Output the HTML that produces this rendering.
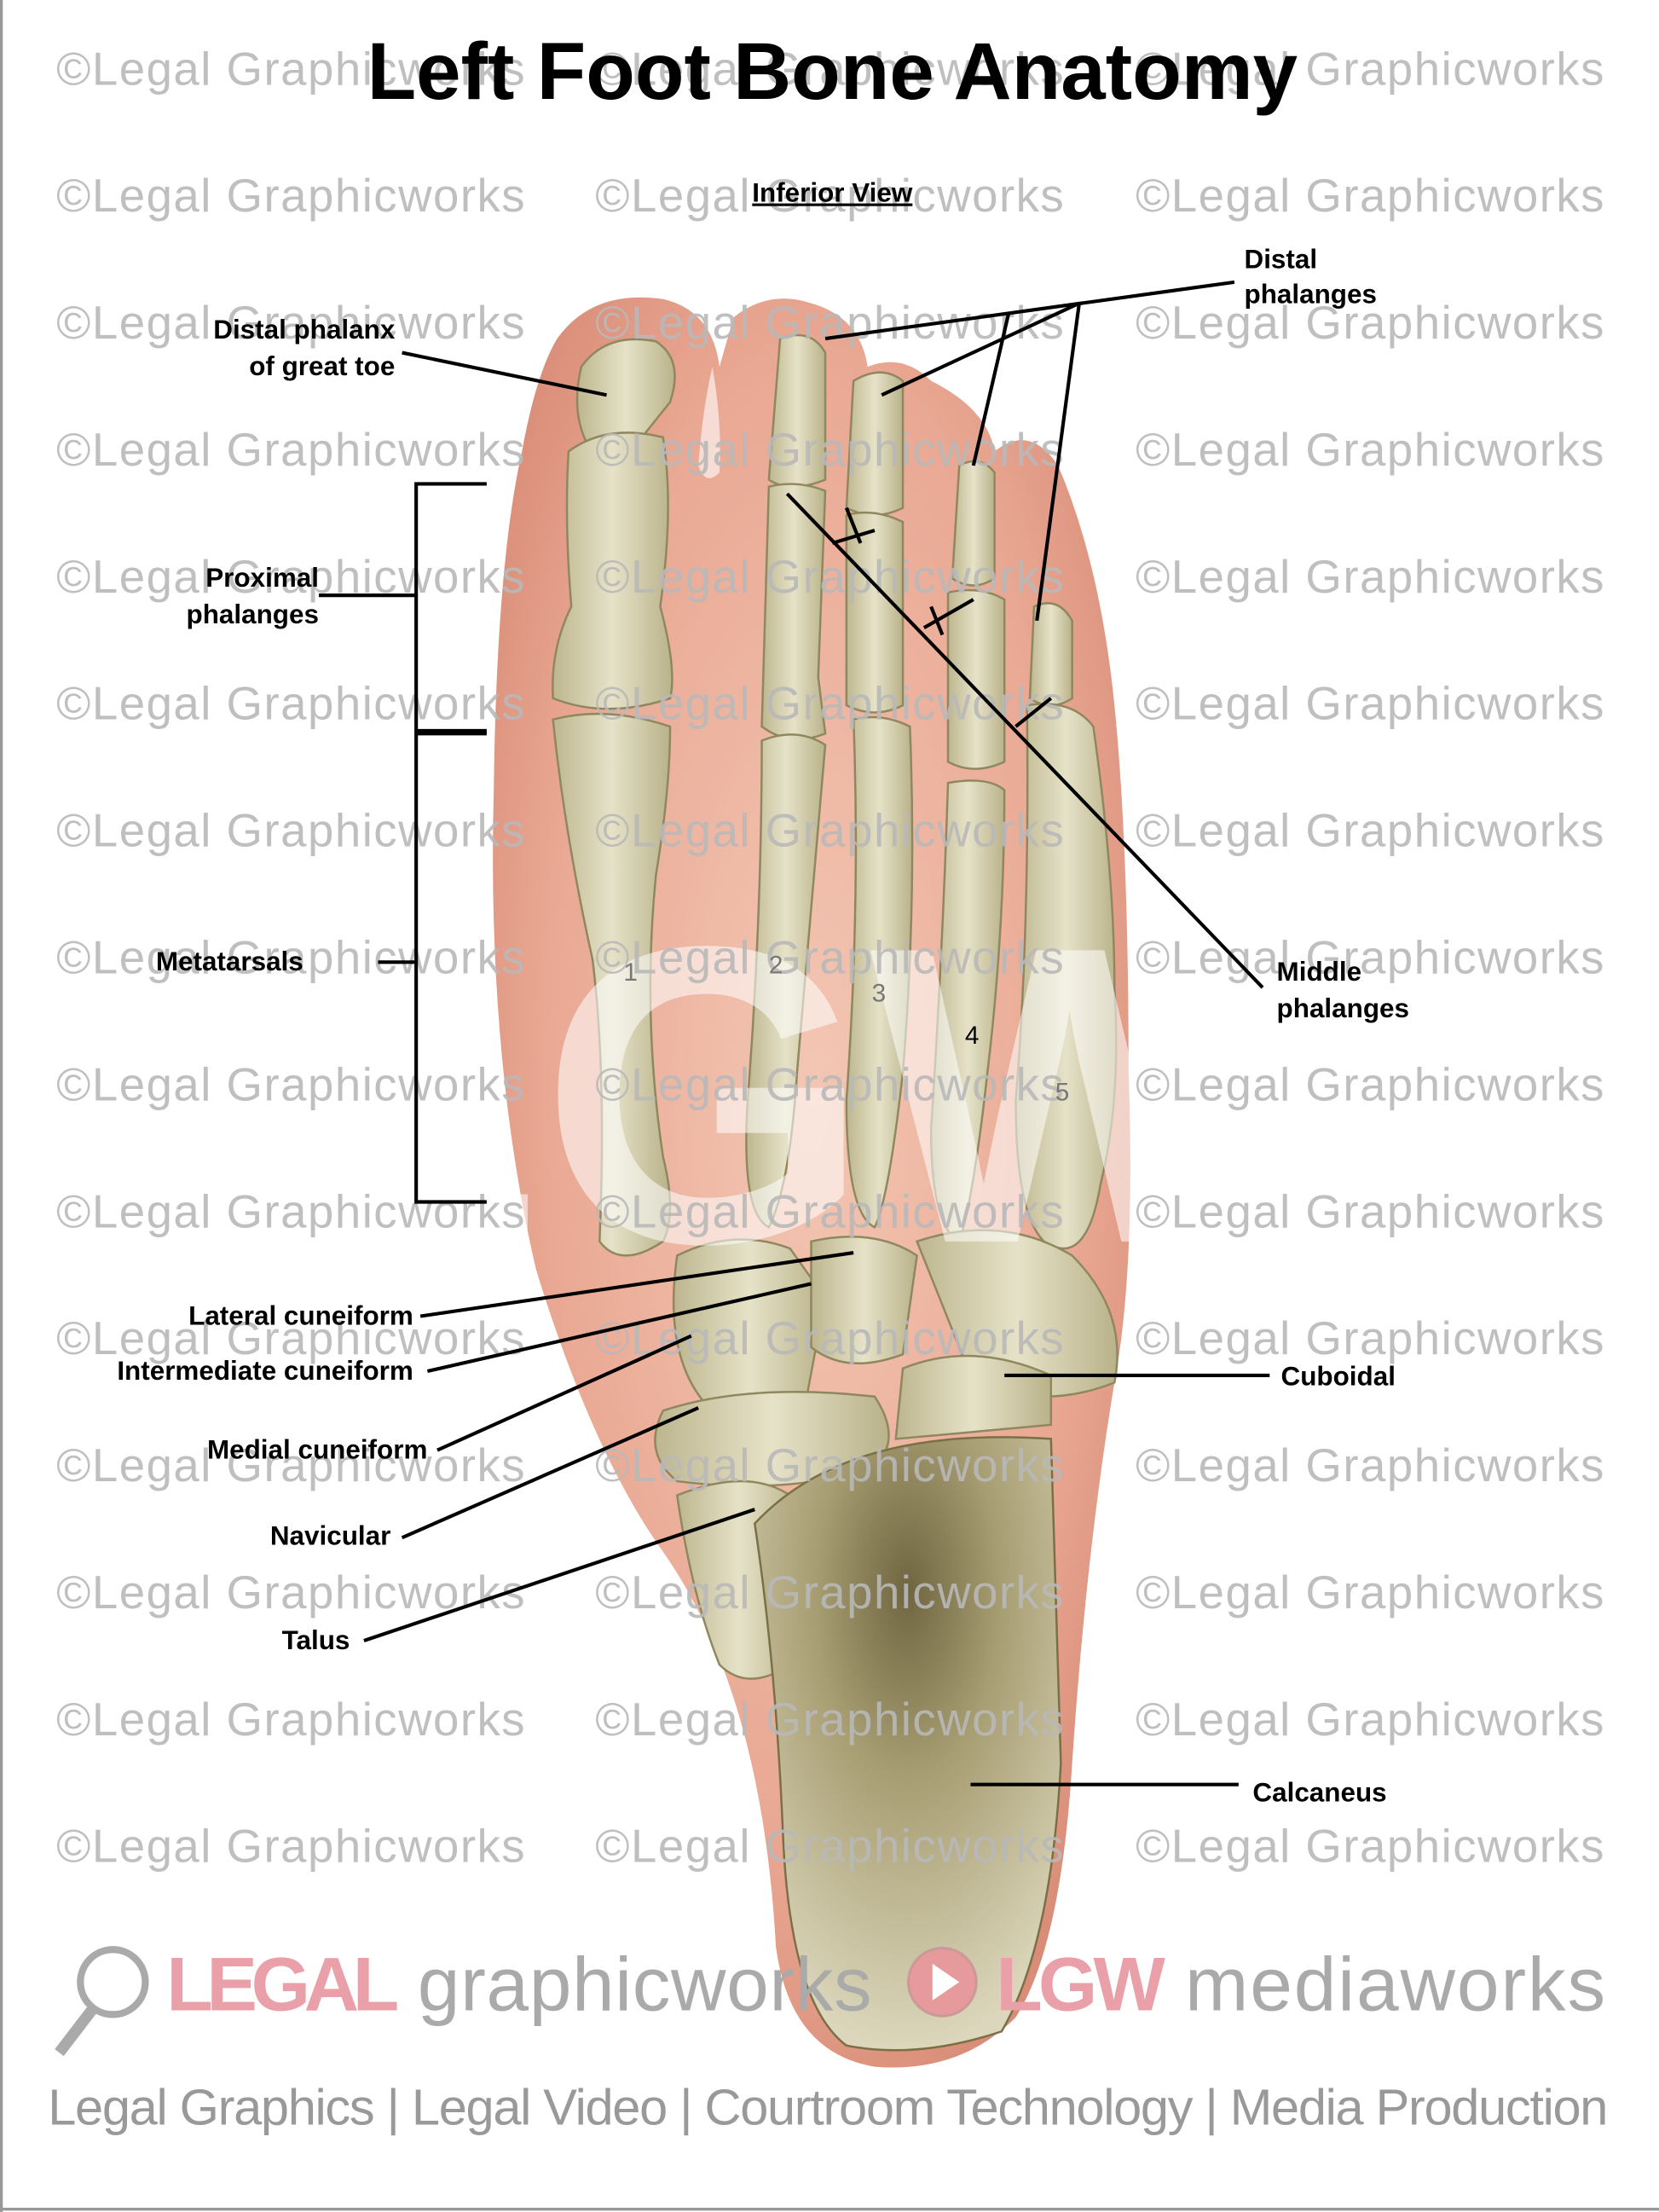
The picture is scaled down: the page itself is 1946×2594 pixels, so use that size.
<!DOCTYPE html>
<html><head><meta charset="utf-8"><style>
html,body{margin:0;padding:0;background:#fff}
svg{display:block}
</style></head><body>
<svg width="1946" height="2594" viewBox="0 0 1176 1568" preserveAspectRatio="none" xmlns="http://www.w3.org/2000/svg" font-family="Liberation Sans, sans-serif">
<rect x="0" y="0" width="1176" height="1568" fill="#fff"/>
<line x1="1" y1="0" x2="1" y2="1568" stroke="#999" stroke-width="2"/>
<line x1="0" y1="1566" x2="1176" y2="1566" stroke="#999" stroke-width="2"/>
<defs>
<radialGradient id="skin" cx="50%" cy="45%" r="60%">
<stop offset="0" stop-color="#f3c7b4"/><stop offset="0.7" stop-color="#e9a893"/><stop offset="1" stop-color="#d98d78"/>
</radialGradient>
<linearGradient id="bone" x1="0" y1="0" x2="1" y2="0">
<stop offset="0" stop-color="#bdb68f"/><stop offset="0.5" stop-color="#e6e2c8"/><stop offset="1" stop-color="#b9b28a"/>
</linearGradient>
<radialGradient id="calc" cx="50%" cy="25%" r="75%">
<stop offset="0" stop-color="#6f6540"/><stop offset="0.4" stop-color="#a79d72"/><stop offset="1" stop-color="#dcd7bc"/>
</radialGradient>
</defs>
<path d="M395 240 Q420 205 470 212 Q505 220 510 260 L520 225 Q545 205 575 215 Q610 225 615 260 Q640 250 660 270 Q700 290 705 320 Q730 300 750 330 Q780 400 790 500 Q800 600 800 760 Q805 900 790 980 Q770 1100 760 1250 Q752 1380 720 1430 Q680 1470 620 1465 Q560 1455 550 1380 Q540 1200 470 1100 Q420 1030 380 900 Q345 750 350 560 Q352 400 370 320 Q380 265 395 240 Z" fill="url(#skin)"/>
<path d="M505 260 Q512 300 510 335 Q500 345 495 330 Q498 290 505 260Z" fill="#fff" fill-opacity="0.6"/>
<g fill="url(#bone)" stroke="#8f875e" stroke-width="1.5">
<path d="M412 260 Q430 235 465 242 Q485 255 475 285 L455 310 Q440 320 415 312 Q405 290 412 260Z"/>
<path d="M403 320 Q430 300 470 310 Q478 360 468 430 Q480 475 475 495 Q430 510 392 495 Q390 460 405 430 Q400 370 403 320Z"/>
<path d="M392 510 Q430 500 475 515 Q475 560 465 620 Q455 720 470 820 Q480 860 470 880 Q440 900 425 880 Q430 760 420 680 Q400 590 392 510Z"/>
<path d="M553 240 Q575 232 585 250 L585 340 Q560 350 545 340 Z"/>
<path d="M545 345 Q565 340 585 348 L580 480 L585 520 Q560 530 540 515 Z"/>
<path d="M540 525 Q565 515 585 528 Q575 640 565 760 Q560 840 545 870 Q525 860 530 780 Q540 650 540 525Z"/>
<path d="M605 270 Q625 258 640 270 L640 360 Q620 370 600 360 Z"/>
<path d="M600 365 Q620 360 640 370 L640 500 Q620 510 600 500 Z"/>
<path d="M605 510 Q625 505 645 515 Q650 640 640 760 Q630 850 620 870 Q600 860 600 780 Q610 640 605 510Z"/>
<path d="M680 330 Q695 322 705 335 L705 410 Q690 420 675 410 Z"/>
<path d="M672 420 Q695 415 712 425 L712 540 Q690 550 672 540 Z"/>
<path d="M672 555 Q700 550 712 560 Q712 660 700 760 Q690 850 680 880 Q660 870 660 800 Q668 680 672 555Z"/>
<path d="M733 430 Q750 422 760 440 L760 495 Q745 505 730 495 Z"/>
<path d="M728 500 Q760 495 775 515 Q790 620 790 700 Q795 780 780 840 Q770 900 740 880 Q720 860 720 780 Q730 660 728 500Z"/>
<path d="M480 890 Q520 870 560 885 L585 920 L570 1000 Q540 1010 500 995 Q470 960 480 890Z"/>
<path d="M575 880 Q620 870 650 890 L640 960 Q600 975 575 955 Z"/>
<path d="M650 880 Q710 860 760 890 Q800 930 790 980 Q740 1000 690 980 Z"/>
<path d="M640 970 Q690 950 745 975 L745 1010 L635 1020 Z"/>
<path d="M470 1000 Q530 980 620 990 Q640 1020 620 1040 Q560 1060 480 1050 Q455 1030 470 1000Z"/>
<path d="M480 1060 Q530 1040 560 1060 Q575 1120 560 1180 Q530 1200 510 1180 Q490 1130 480 1060Z"/>
</g>
<path d="M535 1080 Q600 1010 745 1020 L752 1250 Q745 1380 710 1440 Q650 1460 600 1450 Q560 1420 555 1300 Q550 1180 535 1080Z" fill="url(#calc)" stroke="#7b6f45" stroke-width="1.5"/>
<g fill="#fff" fill-opacity="0.55" font-size="300" font-weight="bold">
<text x="200" y="880">LGW</text>
</g>
<g fill="#b8b8b8" font-size="33" fill-opacity="0.9">
<g id="row"><text x="40" y="60" textLength="332">©Legal Graphicworks</text><text x="422" y="60" textLength="332">©Legal Graphicworks</text><text x="805" y="60" textLength="332">©Legal Graphicworks</text></g>
<use href="#row" y="90"/><use href="#row" y="180"/><use href="#row" y="270"/><use href="#row" y="360"/>
<use href="#row" y="450"/><use href="#row" y="540"/><use href="#row" y="630"/><use href="#row" y="720"/>
<use href="#row" y="810"/><use href="#row" y="900"/><use href="#row" y="990"/><use href="#row" y="1080"/>
<use href="#row" y="1170"/><use href="#row" y="1260"/>
</g>
<text x="590" y="70" text-anchor="middle" font-size="57" font-weight="bold" fill="#000">Left Foot Bone Anatomy</text>
<text x="590" y="143" text-anchor="middle" font-size="19" font-weight="bold" text-decoration="underline">Inferior View</text>
<g font-size="18" fill="#777"><text x="442" y="695">1</text><text x="545" y="690">2</text><text x="618" y="710">3</text><text x="684" y="740" fill="#000">4</text><text x="748" y="780">5</text></g>
<g font-size="19" font-weight="bold" fill="#000">
<text x="280" y="240" text-anchor="end">Distal phalanx</text>
<text x="280" y="266" text-anchor="end">of great toe</text>
<text x="226" y="416" text-anchor="end">Proximal</text>
<text x="226" y="442" text-anchor="end">phalanges</text>
<text x="215" y="688" text-anchor="end">Metatarsals</text>
<text x="882" y="190">Distal</text>
<text x="882" y="215">phalanges</text>
<text x="905" y="695">Middle</text>
<text x="905" y="721">phalanges</text>
<text x="293" y="939" text-anchor="end">Lateral cuneiform</text>
<text x="293" y="978" text-anchor="end">Intermediate cuneiform</text>
<text x="303" y="1034" text-anchor="end">Medial cuneiform</text>
<text x="277" y="1095" text-anchor="end">Navicular</text>
<text x="248" y="1169" text-anchor="end">Talus</text>
<text x="908" y="982">Cuboidal</text>
<text x="888" y="1277">Calcaneus</text>
</g>
<g stroke="#000" stroke-width="2.5" fill="none">
<line x1="285" y1="250" x2="430" y2="280"/>
<polyline points="345,343 295,343 295,518 345,518"/>
<line x1="226" y1="422" x2="295" y2="422"/>
<polyline points="345,520 295,520 295,852 345,852"/>
<line x1="268" y1="682" x2="295" y2="682"/>
<line x1="875" y1="200" x2="585" y2="240"/>
<line x1="765" y1="215" x2="625" y2="280"/>
<line x1="765" y1="215" x2="735" y2="440"/>
<line x1="715" y1="222" x2="690" y2="330"/>
<line x1="895" y1="700" x2="558" y2="350"/>
<line x1="590" y1="385" x2="620" y2="376"/>
<line x1="600" y1="360" x2="610" y2="385"/>
<line x1="655" y1="445" x2="690" y2="425"/>
<line x1="660" y1="430" x2="668" y2="450"/>
<line x1="720" y1="515" x2="745" y2="495"/>
<line x1="298" y1="933" x2="605" y2="888"/>
<line x1="303" y1="972" x2="575" y2="910"/>
<line x1="310" y1="1028" x2="490" y2="947"/>
<line x1="285" y1="1090" x2="495" y2="998"/>
<line x1="258" y1="1163" x2="535" y2="1070"/>
<line x1="712" y1="975" x2="900" y2="975"/>
<line x1="688" y1="1265" x2="878" y2="1265"/>
</g>
<g>
<circle cx="80" cy="1405" r="23" fill="none" stroke="#aaa" stroke-width="5"/>
<line x1="65" y1="1425" x2="42" y2="1455" stroke="#aaa" stroke-width="8"/>
<text x="118" y="1425" font-size="54" fill="#eaa0a8" font-weight="bold" textLength="165">LEGAL</text>
<text x="296" y="1425" font-size="54" fill="#aaa" textLength="322">graphicworks</text>
<circle cx="668" cy="1405" r="24" fill="#e79a9c" stroke="#c99" stroke-width="2"/>
<polygon points="661,1392 661,1418 680,1405" fill="#fff"/>
<text x="706" y="1425" font-size="54" fill="#eaa0a8" font-weight="bold" textLength="120">LGW</text>
<text x="840" y="1425" font-size="54" fill="#aaa" textLength="298">mediaworks</text>
<text x="34" y="1506" font-size="36" fill="#999" textLength="1106">Legal Graphics | Legal Video | Courtroom Technology | Media Production</text>
</g>
</svg>
</body></html>
